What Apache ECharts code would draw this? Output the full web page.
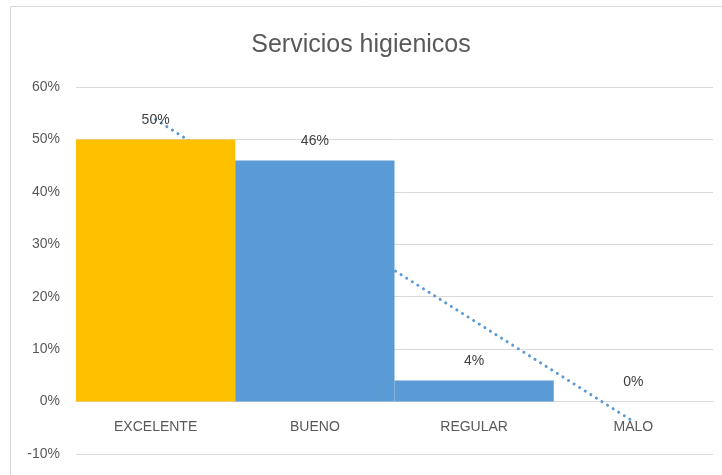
<!DOCTYPE html>
<html><head><meta charset="utf-8">
<script src="https://cdn.jsdelivr.net/npm/echarts@6/dist/echarts.min.js"></script>
<style>html,body{margin:0;padding:0;background:#fff}#c{width:722px;height:475px}</style>
</head><body><div id="c"></div>
<script>
var categories = ['EXCELENTE', 'BUENO', 'REGULAR', 'MALO'];
var values = [50, 46, 4, 0];
var trendValues = [53.8, 34.6, 15.4, -3.8];
var yTicks = [-10, 0, 10, 20, 30, 40, 50, 60];

var chart = echarts.init(document.getElementById('c'), null, {renderer: 'canvas'});
var fontFam = '"Liberation Sans", "DejaVu Sans", sans-serif';
var gridTop = 87, gridBottom = 21, H = 475;
var plotH = H - gridTop - gridBottom;
var yMin = yTicks[0], yMax = yTicks[yTicks.length - 1];
var zeroOffset = -plotH * (0 - yMin) / (yMax - yMin);
chart.setOption({
  animation: false,
  title: {
    text: 'Servicios higienicos', left: 'center', top: 28,
    textStyle: {fontFamily: fontFam, fontSize: 25, fontWeight: 'normal', color: '#595959'}
  },
  graphic: [{type: 'rect', shape: {x: 10.5, y: 6.5, width: 730, height: 480}, style: {fill: 'none', stroke: '#D9D9D9', lineWidth: 1}, silent: true, z: -10}],
  grid: {left: 76, right: 9, top: gridTop, bottom: gridBottom, containLabel: false, outerBoundsMode: 'none'},
  xAxis: {
    type: 'category', data: categories,
    offset: zeroOffset,
    axisLine: {onZero: false, lineStyle: {color: '#D9D9D9', width: 1}},
    axisTick: {show: false},
    axisLabel: {fontFamily: fontFam, fontSize: 14, color: '#595959', margin: 19},
    splitLine: {show: false}
  },
  yAxis: {
    type: 'value', min: yMin, max: yMax, interval: 10,
    axisLine: {show: false}, axisTick: {show: false},
    axisLabel: {fontFamily: fontFam, fontSize: 14, color: '#595959', margin: 16, formatter: function (v) { return v + '%'; }},
    splitLine: {lineStyle: {color: '#D9D9D9', width: 1}}
  },
  series: [
    {
      type: 'line', data: trendValues, z: 1, symbol: 'none', silent: true,
      lineStyle: {color: '#5B9BD5', width: 3, type: [0.1, 6.5], cap: 'round'}
    },
    {
      type: 'bar', data: values, z: 2, barCategoryGap: 0,
      itemStyle: {color: function (p) { return p.dataIndex === 0 ? '#FFC000' : '#5B9BD5'; }},
      label: {show: true, position: 'top', distance: 12, fontFamily: fontFam, fontSize: 14, color: '#404040', formatter: function (p) { return p.value + '%'; }}
    }
  ]
});
</script></body></html>
